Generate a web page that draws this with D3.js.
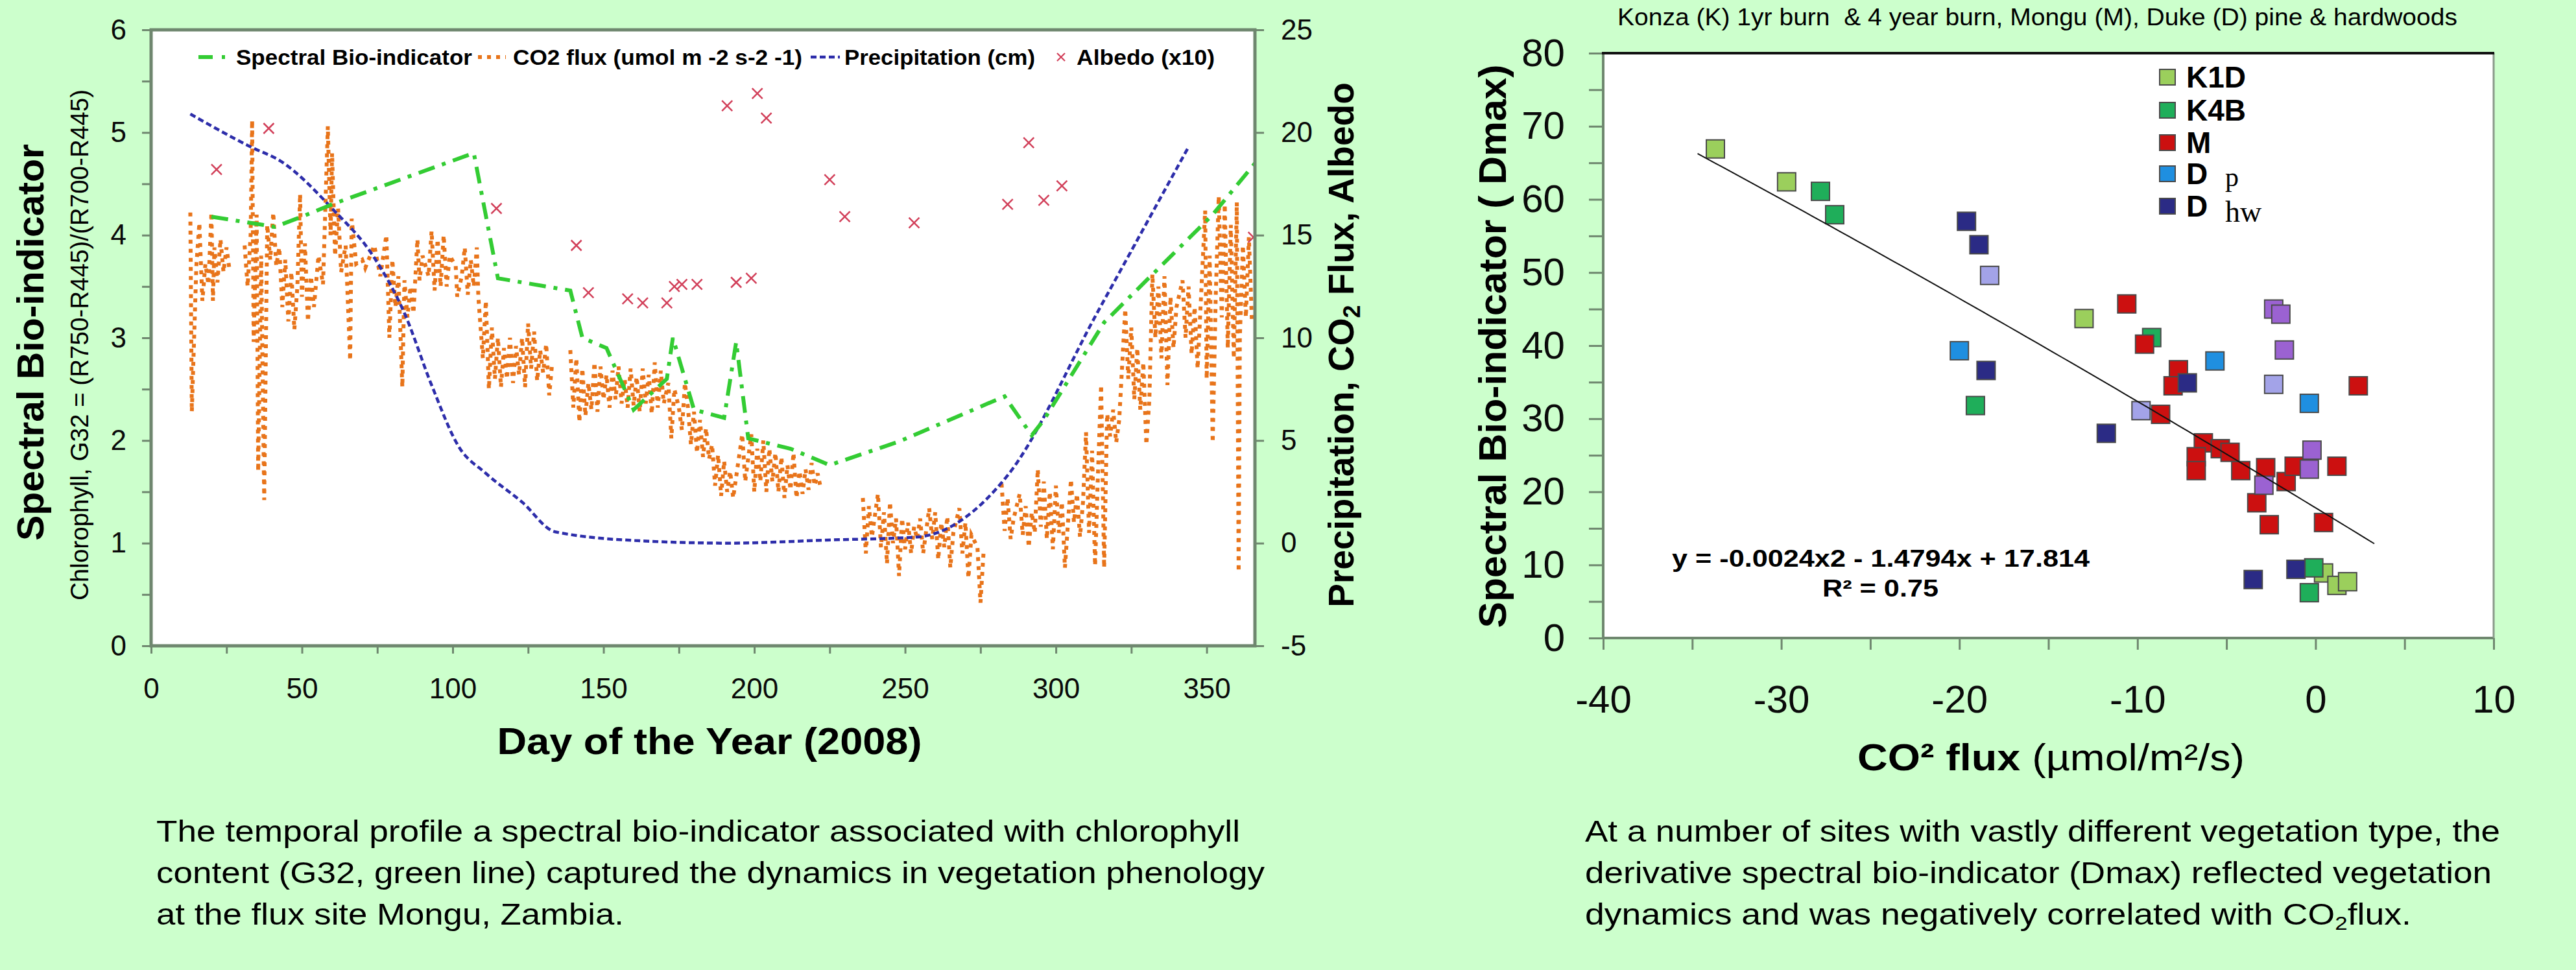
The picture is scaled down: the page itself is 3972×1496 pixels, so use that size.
<!DOCTYPE html>
<html>
<head>
<meta charset="utf-8">
<script src="https://cdn.jsdelivr.net/npm/d3@7"></script>
<style>
  html, body { margin: 0; padding: 0; background: #ccffcc; }
  svg { display: block; font-family: "Liberation Sans", Arial, sans-serif; }
</style>
</head>
<body>
<svg id="chart" width="3972" height="1496"></svg>
<script>
// ---- left panel: Mongu 2008 time series ----
// spectral bio-indicator G32 (left axis)
const bioIndicator = [
  [20, 4.18], [37, 4.10], [41, 4.08], [50, 4.18], [60, 4.30], [107, 4.80], [115, 3.58],
  [139, 3.46], [143, 3.00], [151, 2.90], [160, 2.30], [171, 2.60], [173, 3.00], [180, 2.30],
  [190, 2.22], [194, 2.96], [198, 2.02], [212, 1.92], [225, 1.76], [248, 1.99], [283, 2.43],
  [292, 2.05], [296, 2.20], [316, 3.15], [352, 4.20], [366, 4.70]
];
// precipitation, cm (right axis)
const precipitation = [
  [13, 20.9], [33, 19.3], [43, 18.6], [60, 16.3], [74, 13.9], [84, 11.2], [93, 7.7],
  [102, 4.7], [111, 3.4], [123, 2.0], [134, 0.55], [164, 0.1], [192, 0.0], [224, 0.15],
  [254, 0.3], [284, 3.3], [314, 11.3], [344, 19.3]
];
// albedo x10 (right axis)
const albedo = [
  [21.7, 18.2], [39, 20.2], [114.5, 16.3], [141, 14.5], [145, 12.2], [158, 11.9], [163, 11.7],
  [171, 11.7], [173.5, 12.5], [176, 12.6], [181, 12.6], [191, 21.3], [194, 12.7], [199, 12.9],
  [201, 21.9], [204, 20.7], [225, 17.7], [230, 15.9], [253, 15.6], [284, 16.5], [291, 19.5],
  [296, 16.7], [302, 17.4], [365.5, 14.9]
];
// CO2 flux, umol m-2 s-1 (right axis), null marks a gap in the record
const co2Flux = [
  [13, 16.1], [13.5, 6.4], [15, 13.5], [16, 15.6], [17, 11.8], [18, 13.6], [19, 12.6], [20, 16.1],
  [20.5, 11.8], [21, 14.4], [22, 12.7], [23, 14.8], [24, 13.2], [25, 14.4], [26, 13.3], [29, null],
  [31, 14.5], [32, 12.5], [33, 15], [33.5, 20.6], [34, 9.8], [35, 16], [35.5, 3.5], [36.5, 14],
  [37.5, 2.1], [38.5, 15.5], [39.5, 13.8], [40.5, 16.1], [41.5, 13.5], [42.5, 14.4], [43.5, 11.5],
  [44.5, 13.8], [45.5, 10.8], [46.5, 13.2], [47.5, 10.4], [48.5, 12.5], [49.4, 17], [50, 12],
  [51, 14.6], [52, 10.8], [53, 13], [54, 11.5], [55.5, 14], [57, 12.6], [58.6, 20.3], [59.5, 15],
  [60, 19], [61, 14], [62, 16.3], [63, 13.2], [64.5, 14.5], [66, 8.9], [66.5, 15.8], [68, 13.6],
  [70, 13.8], [71, 13.4], [74, 14.5], [76, 13], [78, 15], [79, 10], [80, 13.8], [81, 11.5],
  [82, 13], [83.3, 7.6], [84, 12.8], [85, 11], [86, 12.5], [87, 11.2], [88.3, 14.8], [89, 12.8],
  [90, 14], [92, 13], [93, 15.2], [94, 12.3], [95, 14.8], [96, 12.5], [97, 15], [98, 12.5],
  [99, 14], [101, 13.5], [101.5, 12], [103, 13], [104, 14.4], [105, 12.1], [106, 13.8], [107, 12.5],
  [108, 14.4], [108.5, 12], [110, 9], [111, 11.8], [112, 7.5], [113, 10.5], [114, 8], [115, 10],
  [116, 7.6], [117, 9.5], [118, 8], [119, 10], [120, 7.8], [121, 9.6], [122, 8.2], [123, 10],
  [124, 7.6], [125, 10.7], [126, 8.5], [127, 10.3], [128, 7.9], [129, 9.4], [130, 8.3], [131, 9.7],
  [132, 7.2], [133, 8.8], [136, null], [139, 9.4], [140, 6.6], [141, 9], [142, 5.9], [143, 8.5],
  [144, 6.2], [145, 7.8], [146, 6.5], [147, 8.8], [148, 6.4], [149, 8.6], [150, 7], [151, 8.2],
  [152, 6.6], [153, 8.4], [154, 7], [155, 8.6], [156, 6.8], [157, 8], [158, 6.6], [159, 8.5],
  [160, 6.7], [161, 8.1], [162, 6.4], [163, 8.5], [164, 6.8], [165, 8.2], [166, 6.3], [167, 8.8],
  [168, 6.6], [169, 8.4], [170, 6.8], [171.5, 7.8], [172.5, 5.1], [173.5, 7.5], [175, 6.6],
  [176, 5.5], [177, 7.8], [178, 6.6], [179, 4.8], [180, 6.4], [181, 4.4], [182, 6], [183, 4.2],
  [184, 5.6], [185, 4.1], [186, 4.8], [187, 2.8], [188, 4.3], [189, 2.3], [190, 4], [191, 2.5],
  [192, 3.5], [193, 2.2], [196, 5.3], [197, 3], [199, 5.3], [200, 2.5], [201, 4.6], [202, 3],
  [203, 5], [204, 2.5], [205, 4.6], [206, 3], [207, 4.4], [208, 2.5], [209, 4.2], [210, 2.2],
  [211, 3.8], [212, 2.6], [213, 4.4], [214, 2.2], [215, 3.5], [216, 2.4], [217, 3.6], [218, 2.6],
  [219, 3.9], [220, 2.8], [221, 3.4], [222, 2.7], [229, null], [236, 2.2], [237, -0.5], [238, 1.8],
  [239, 0.3], [241, 2.4], [242, -0.2], [243, 1.5], [244, -1], [245, 2], [246, 0], [247, 1.2],
  [248, -1.6], [249, 1.2], [250, -0.3], [251, 1], [252, -0.5], [253, 0.8], [254, 0.2], [255, 1.2],
  [256, -0.5], [258, 1.7], [259, 0.2], [260, 1.5], [261, -0.8], [262, 1], [263, -0.2], [264, 1.3],
  [265, -1.2], [266, 0.5], [268, 1.7], [269, -0.5], [270, 1], [271, -1.7], [272, 0.4], [274, -0.2],
  [275, -2.9], [276, -0.5], [279, null], [282, 2.9], [283, 0.6], [284, 2.2], [285, 0.2], [286, 1.2],
  [288, 2.4], [289, 0.4], [290, 1.8], [291, -0.2], [292, 1.5], [293, 0.5], [294, 3.6], [295, 0.8],
  [296, 3], [297, 0.2], [298, 2.5], [299, -0.3], [300, 2.8], [301, 0.5], [302, 2], [303, -1.2],
  [305, 3.1], [306, 1], [307, 2.4], [308, 0.3], [309, 2], [310, 5.4], [311, 0.5], [312, 4.5],
  [313, -1.1], [314, 3.6], [315, 7.7], [316, -1.2], [317, 6.3], [318, 5.2], [319, 6.5], [320, 4.9],
  [321, 6], [323, 11.4], [324, 8], [325, 10.5], [326, 7], [327, 9.5], [328, 6.5], [329, 8.8],
  [330, 4.8], [331, 7], [332, 13.1], [333, 10], [334, 12.5], [335, 9], [336, 13], [337, 7.7],
  [338, 12], [339, 9.5], [340, 11.5], [342, 12.8], [343, 10], [344, 12.5], [345, 9.2], [346, 11.5],
  [347, 8.5], [349.5, 16.2], [350, 8], [351, 14], [352, 4.9], [353, 12], [354, 16.9], [355, 11],
  [356, 16.5], [357, 9.5], [358, 15.5], [359, 9], [360, 16.6], [360.6, -1.4], [361, 10],
  [362, 14.5], [363, 11], [364, 14.9], [365, 10.8]
];

const dayTicks = [0, 50, 100, 150, 200, 250, 300, 350];
const dayMinorTicks = [25, 75, 125, 175, 225, 275, 325];
const bioTicks = [0, 1, 2, 3, 4, 5, 6];
const bioMinorTicks = [0.5, 1.5, 2.5, 3.5, 4.5, 5.5];
const fluxTicks = [-5, 0, 5, 10, 15, 20, 25];

const leftLegend = ['Spectral Bio-indicator', 'CO2 flux (umol m -2 s-2 -1)', 'Precipitation (cm)', 'Albedo (x10)'];

// ---- right panel: Dmax vs CO2 flux at several sites ----
const siteK1D = [[-33.7, 66.9], [-29.7, 62.4], [-13.0, 43.7], [0.45, 8.9], [1.2, 7.2], [1.8, 7.7]];
const siteK4B = [[-27.8, 61.1], [-27.0, 57.9], [-9.2, 41.1], [-19.1, 31.8], [-0.1, 9.6], [-0.35, 6.2]];
const siteM = [
  [-10.6, 45.7], [-9.6, 40.2], [-7.7, 36.7], [-8.0, 34.5], [-8.7, 30.6], [-6.3, 26.7], [-6.7, 24.8],
  [-6.7, 22.9], [-5.35, 25.9], [-4.8, 25.4], [-4.2, 22.9], [-2.8, 23.3], [-3.3, 18.5], [-1.65, 21.4],
  [-1.2, 23.5], [-2.6, 15.5], [0.45, 15.8], [1.2, 23.5], [2.4, 34.5]
];
const siteDp = [[-20.0, 39.3], [-5.65, 37.9], [-0.35, 32.1]];
const siteDhw = [[-19.6, 57.0], [-18.9, 53.8], [-18.5, 36.6], [-7.2, 34.9], [-11.75, 28.0], [-3.5, 8.0], [-1.1, 9.4]];
const extraLight = [[-18.3, 49.6], [-9.8, 31.1], [-2.35, 34.7]];
const extraPurple = [[-2.35, 45.0], [-1.95, 44.3], [-1.75, 39.4], [-0.2, 25.7], [-0.35, 23.1], [-2.9, 20.9]];

const trendCoef = [-0.0024, -1.4794, 17.814];
const trendRange = [-34.7, 3.4];

const co2Ticks = [-40, -30, -20, -10, 0, 10];
const co2MinorTicks = [-35, -25, -15, -5, 5];
const dmaxTicks = [0, 10, 20, 30, 40, 50, 60, 70, 80];
const dmaxMinorTicks = [5, 15, 25, 35, 45, 55, 65, 75];

const captionLeft = [
  'The temporal profile a spectral bio-indicator associated with chlorophyll',
  'content (G32, green line) captured the dynamics in vegetation phenology',
  'at the flux site Mongu, Zambia.'
];
const captionRight = [
  'At a number of sites with vastly different vegetation type, the',
  'derivative spectral bio-indicator (Dmax) reflected vegetation',
  'dynamics and was negatively correlated with CO|2|flux.'
];

const svg = d3.select('#chart');
const FONT = '"Liberation Sans", Arial, sans-serif';
const axisColor = '#6f876f';
const plain = d => String(d);   // hyphen minus, no decimals

svg.append('rect').attr('width', 3972).attr('height', 1496).attr('fill', '#ccffcc');

function styleAxis(g, size) {
  g.attr('font-family', FONT).attr('font-size', size);
  g.select('.domain').remove();
  g.selectAll('.tick line').attr('stroke', axisColor).attr('stroke-width', 3);
  g.selectAll('.tick text').attr('fill', '#0a0a0a');
}

// ================= left panel =================
const L = { left: 233, right: 1935, top: 46, bottom: 996 };
const x = d3.scaleLinear().domain([0, 366]).range([L.left, L.right]);
const yBio = d3.scaleLinear().domain([0, 6]).range([L.bottom, L.top]);
const yFlux = d3.scaleLinear().domain([-5, 25]).range([L.bottom, L.top]);

svg.append('rect').attr('x', L.left).attr('y', L.top)
  .attr('width', L.right - L.left).attr('height', L.bottom - L.top).attr('fill', '#fff');

svg.append('g').attr('transform', `translate(0,${L.bottom})`)
  .call(d3.axisBottom(x).tickValues(dayTicks).tickFormat(plain).tickSize(12).tickPadding(38))
  .call(styleAxis, 44);
svg.append('g').attr('transform', `translate(0,${L.bottom})`)
  .call(d3.axisBottom(x).tickValues(dayMinorTicks).tickSize(12).tickFormat(''))
  .call(styleAxis, 44);
svg.append('g').attr('transform', `translate(${L.left},0)`)
  .call(d3.axisLeft(yBio).tickValues(bioTicks).tickFormat(plain).tickSize(14).tickPadding(24))
  .call(styleAxis, 44);
svg.append('g').attr('transform', `translate(${L.left},0)`)
  .call(d3.axisLeft(yBio).tickValues(bioMinorTicks).tickSize(14).tickFormat(''))
  .call(styleAxis, 44);
svg.append('g').attr('transform', `translate(${L.right},0)`)
  .call(d3.axisRight(yFlux).tickValues(fluxTicks).tickFormat(plain).tickSize(14).tickPadding(26))
  .call(styleAxis, 44);

svg.append('clipPath').attr('id', 'clipL').append('rect')
  .attr('x', L.left).attr('y', L.top).attr('width', L.right - L.left).attr('height', L.bottom - L.top);
const plotL = svg.append('g').attr('clip-path', 'url(#clipL)');

const co2Line = d3.line().defined(d => d[1] !== null).x(d => x(d[0])).y(d => yFlux(d[1]));
plotL.append('path').attr('d', co2Line(co2Flux)).attr('fill', 'none')
  .attr('stroke', '#e8741a').attr('stroke-width', 6).attr('stroke-dasharray', '6 8');

const precipLine = d3.line().curve(d3.curveMonotoneX).x(d => x(d[0])).y(d => yFlux(d[1]));
plotL.append('path').attr('d', precipLine(precipitation)).attr('fill', 'none')
  .attr('stroke', '#2d2daa').attr('stroke-width', 4.5).attr('stroke-dasharray', '9 5');

const bioLine = d3.line().x(d => x(d[0])).y(d => yBio(d[1]));
plotL.append('path').attr('d', bioLine(bioIndicator)).attr('fill', 'none')
  .attr('stroke', '#33cc33').attr('stroke-width', 6).attr('stroke-dasharray', '26 12 6 12');

const cross = 'M-8,-8L8,8M-8,8L8,-8';
plotL.selectAll('path.albedo').data(albedo).join('path').attr('class', 'albedo')
  .attr('transform', d => `translate(${x(d[0])},${yFlux(d[1])})`)
  .attr('d', cross).attr('stroke', '#d2405a').attr('stroke-width', 2.5).attr('fill', 'none');

svg.append('rect').attr('x', L.left).attr('y', L.top)
  .attr('width', L.right - L.left).attr('height', L.bottom - L.top)
  .attr('fill', 'none').attr('stroke', axisColor).attr('stroke-width', 5);

// legend along the top of the plot
const legY = 88;
const leg = svg.append('g').attr('font-family', FONT).attr('font-weight', 'bold').attr('font-size', 34);
leg.append('line').attr('x1', 306).attr('x2', 353).attr('y1', legY).attr('y2', legY)
  .attr('stroke', '#33cc33').attr('stroke-width', 6).attr('stroke-dasharray', '22 14 5 14');
leg.append('line').attr('x1', 737).attr('x2', 780).attr('y1', legY).attr('y2', legY)
  .attr('stroke', '#e8741a').attr('stroke-width', 6).attr('stroke-dasharray', '6 8');
leg.append('line').attr('x1', 1250).attr('x2', 1295).attr('y1', legY).attr('y2', legY)
  .attr('stroke', '#2d2daa').attr('stroke-width', 4.5).attr('stroke-dasharray', '9 5');
leg.append('path').attr('transform', `translate(1636,${legY})`).attr('d', 'M-6,-6L6,6M-6,6L6,-6')
  .attr('stroke', '#d2405a').attr('stroke-width', 2.2);
const legPos = [[364, 364], [791, 446], [1302, 294], [1660, 213]];
leg.selectAll('text').data(leftLegend).join('text')
  .attr('x', (d, i) => legPos[i][0]).attr('y', legY + 12)
  .attr('textLength', (d, i) => legPos[i][1]).attr('lengthAdjust', 'spacingAndGlyphs')
  .text(d => d);

// axis titles
svg.append('text').attr('transform', 'translate(67,528) rotate(-90)')
  .attr('text-anchor', 'middle').attr('font-family', FONT).attr('font-weight', 'bold')
  .attr('font-size', 58).attr('textLength', 612).attr('lengthAdjust', 'spacingAndGlyphs')
  .text('Spectral Bio-indicator');
svg.append('text').attr('transform', 'translate(136,532) rotate(-90)')
  .attr('text-anchor', 'middle').attr('font-family', FONT)
  .attr('font-size', 38).attr('textLength', 788).attr('lengthAdjust', 'spacingAndGlyphs')
  .text('Chlorophyll, G32 = (R750-R445)/(R700-R445)');
const rTitle = svg.append('text').attr('transform', 'translate(2087,532) rotate(-90)')
  .attr('text-anchor', 'middle').attr('font-family', FONT).attr('font-weight', 'bold')
  .attr('font-size', 55);
rTitle.append('tspan').text('Precipitation, CO');
rTitle.append('tspan').attr('font-size', 36).attr('dy', 10).text('2');
rTitle.append('tspan').attr('dy', -10).text(' Flux, Albedo');
svg.append('text').attr('x', 1094).attr('y', 1163).attr('text-anchor', 'middle')
  .attr('font-family', FONT).attr('font-weight', 'bold').attr('font-size', 58)
  .attr('textLength', 655).attr('lengthAdjust', 'spacingAndGlyphs')
  .text('Day of the Year (2008)');

// ================= right panel =================
const R = { left: 2472, right: 3845, top: 82, bottom: 984 };
const x2 = d3.scaleLinear().domain([-40, 10]).range([R.left, R.right]);
const y2 = d3.scaleLinear().domain([0, 80]).range([R.bottom, R.top]);

svg.append('rect').attr('x', R.left).attr('y', R.top)
  .attr('width', R.right - R.left).attr('height', R.bottom - R.top).attr('fill', '#fff');

svg.append('g').attr('transform', `translate(0,${R.bottom})`)
  .call(d3.axisBottom(x2).tickValues(co2Ticks).tickFormat(plain).tickSize(18).tickPadding(54))
  .call(styleAxis, 60);
svg.append('g').attr('transform', `translate(0,${R.bottom})`)
  .call(d3.axisBottom(x2).tickValues(co2MinorTicks).tickSize(18).tickFormat(''))
  .call(styleAxis, 60);
svg.append('g').attr('transform', `translate(${R.left},0)`)
  .call(d3.axisLeft(y2).tickValues(dmaxTicks).tickFormat(plain).tickSize(22).tickPadding(37))
  .call(styleAxis, 60);
svg.append('g').attr('transform', `translate(${R.left},0)`)
  .call(d3.axisLeft(y2).tickValues(dmaxMinorTicks).tickSize(22).tickFormat(''))
  .call(styleAxis, 60);

const sites = [
  { name: 'K1D', pts: siteK1D, fill: '#9bcf5c' },
  { name: 'K4B', pts: siteK4B, fill: '#1fae5a' },
  { name: 'M', pts: siteM, fill: '#cc1010' },
  { name: 'D p', pts: siteDp, fill: '#1f8fe0' },
  { name: 'D hw', pts: siteDhw, fill: '#2b2b85' },
  { name: null, pts: extraLight, fill: '#a3a3e8' },
  { name: null, pts: extraPurple, fill: '#9b62d2' }
];
const sq = 28;
sites.forEach(s => {
  svg.append('g').selectAll('rect').data(s.pts).join('rect')
    .attr('x', d => x2(d[0]) - sq / 2).attr('y', d => y2(d[1]) - sq / 2)
    .attr('width', sq).attr('height', sq)
    .attr('fill', s.fill).attr('stroke', '#4a4a4a').attr('stroke-width', 2);
});

const trendX = d3.range(trendRange[0], trendRange[1] + 0.01, 0.5);
const trend = d3.line().x(d => x2(d)).y(d => y2(trendCoef[0] * d * d + trendCoef[1] * d + trendCoef[2]));
svg.append('path').attr('d', trend(trendX)).attr('fill', 'none').attr('stroke', '#111').attr('stroke-width', 2);

svg.append('line').attr('x1', R.left).attr('x2', R.right).attr('y1', R.bottom).attr('y2', R.bottom)
  .attr('stroke', axisColor).attr('stroke-width', 4);
svg.append('line').attr('x1', R.left).attr('x2', R.left).attr('y1', R.top).attr('y2', R.bottom)
  .attr('stroke', axisColor).attr('stroke-width', 4);
svg.append('line').attr('x1', R.right).attr('x2', R.right).attr('y1', R.top).attr('y2', R.bottom)
  .attr('stroke', '#8a9a8a').attr('stroke-width', 3);
svg.append('line').attr('x1', R.left - 2).attr('x2', R.right + 1).attr('y1', R.top).attr('y2', R.top)
  .attr('stroke', '#111').attr('stroke-width', 4);

// legend
const legRows = [119, 170, 220, 268, 318];
const leg2 = svg.append('g').attr('font-family', FONT).attr('font-weight', 'bold').attr('font-size', 46);
sites.slice(0, 5).forEach((s, i) => {
  leg2.append('rect').attr('x', 3330).attr('y', legRows[i] - 12).attr('width', 24).attr('height', 24)
    .attr('fill', s.fill).attr('stroke', '#4a4a4a').attr('stroke-width', 2);
  const t = leg2.append('text').attr('x', 3371).attr('y', legRows[i] + 16);
  const parts = s.name.split(' ');
  t.append('tspan').text(parts[0]);
  if (parts[1]) {
    t.append('tspan').attr('x', 3431).attr('dy', i === 4 ? 8 : 3)
      .attr('font-family', '"Liberation Serif", "Times New Roman", serif')
      .attr('font-weight', 'normal').attr('font-size', i === 4 ? 46 : 42).text(parts[1]);
  }
});

// equation
svg.append('text').attr('x', 2578).attr('y', 874).attr('font-family', FONT).attr('font-weight', 'bold')
  .attr('font-size', 36).attr('textLength', 644).attr('lengthAdjust', 'spacingAndGlyphs')
  .text('y = -0.0024x2 - 1.4794x + 17.814');
svg.append('text').attr('x', 2810).attr('y', 920).attr('font-family', FONT).attr('font-weight', 'bold')
  .attr('font-size', 36).attr('textLength', 179).attr('lengthAdjust', 'spacingAndGlyphs')
  .text('R² = 0.75');

// titles
svg.append('text').attr('x', 2494).attr('y', 39).attr('font-family', FONT).attr('font-size', 36)
  .style('white-space', 'pre').attr('textLength', 1295).attr('lengthAdjust', 'spacingAndGlyphs')
  .text('Konza (K) 1yr burn  & 4 year burn, Mongu (M), Duke (D) pine & hardwoods');
svg.append('text').attr('transform', 'translate(2322,534) rotate(-90)')
  .attr('text-anchor', 'middle').attr('font-family', FONT).attr('font-weight', 'bold')
  .attr('font-size', 60).attr('textLength', 869).attr('lengthAdjust', 'spacingAndGlyphs')
  .style('white-space', 'pre').text('Spectral Bio-indicator ( Dmax)');
const xt2 = svg.append('text').attr('x', 2864).attr('y', 1188).attr('font-family', FONT)
  .attr('font-size', 58).attr('textLength', 597).attr('lengthAdjust', 'spacingAndGlyphs');
xt2.append('tspan').attr('font-weight', 'bold').text('CO² flux ');
xt2.append('tspan').text('(µmol/m²/s)');

// captions
function caption(lines, x0, widths) {
  lines.forEach((line, i) => {
    const t = svg.append('text').attr('x', x0).attr('y', 1298 + i * 64)
      .attr('font-family', FONT).attr('font-size', 46)
      .attr('textLength', widths[i]).attr('lengthAdjust', 'spacingAndGlyphs');
    const bits = line.split('|');
    bits.forEach((b, j) => {
      if (j === 1) t.append('tspan').attr('font-size', 30).attr('dy', 8).text(b);
      else t.append('tspan').attr('dy', j === 2 ? -8 : 0).text(b);
    });
  });
}
caption(captionLeft, 241, [1671, 1709, 721]);
caption(captionRight, 2444, [1411, 1398, 1274]);
</script>
</body>
</html>
